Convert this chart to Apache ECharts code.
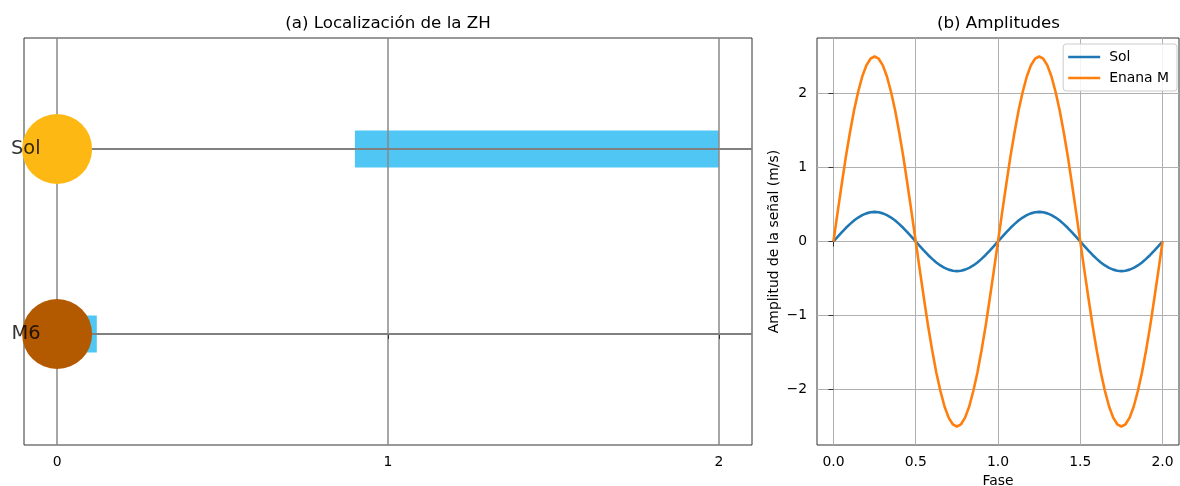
<!DOCTYPE html>
<html>
<head>
<meta charset="utf-8">
<script src="https://cdn.jsdelivr.net/npm/echarts@6/dist/echarts.min.js"></script>
<style>
  html, body { margin: 0; padding: 0; background: #fff; }
  #chart { width: 1180px; height: 486px; }
</style>
</head>
<body>
<div id="chart"></div>
<script>
// Panel (a): habitable zone per star
const stars = ['Sol', 'M6'];
const starRow = [1, 0];
const starColors = ['#fdb813', '#b35900'];
const hzInner = [0.9, 0.0];
const hzOuter = [2.0, 0.12];
const distTicks = [0, 1, 2];

// Panel (b): radial-velocity signal over two phases
const phase = [0, 0.025, 0.05, 0.075, 0.1, 0.125, 0.15, 0.175, 0.2, 0.225, 0.25, 0.275, 0.3, 0.325, 0.35, 0.375, 0.4, 0.425, 0.45, 0.475,
  0.5, 0.525, 0.55, 0.575, 0.6, 0.625, 0.65, 0.675, 0.7, 0.725, 0.75, 0.775, 0.8, 0.825, 0.85, 0.875, 0.9, 0.925, 0.95, 0.975,
  1, 1.025, 1.05, 1.075, 1.1, 1.125, 1.15, 1.175, 1.2, 1.225, 1.25, 1.275, 1.3, 1.325, 1.35, 1.375, 1.4, 1.425, 1.45, 1.475,
  1.5, 1.525, 1.55, 1.575, 1.6, 1.625, 1.65, 1.675, 1.7, 1.725, 1.75, 1.775, 1.8, 1.825, 1.85, 1.875, 1.9, 1.925, 1.95, 1.975, 2];
const ampSol = [0, 0.063, 0.124, 0.182, 0.235, 0.283, 0.324, 0.356, 0.38, 0.395, 0.4, 0.395, 0.38, 0.356, 0.324, 0.283, 0.235, 0.182, 0.124, 0.063,
  0, -0.063, -0.124, -0.182, -0.235, -0.283, -0.324, -0.356, -0.38, -0.395, -0.4, -0.395, -0.38, -0.356, -0.324, -0.283, -0.235, -0.182, -0.124, -0.063,
  0, 0.063, 0.124, 0.182, 0.235, 0.283, 0.324, 0.356, 0.38, 0.395, 0.4, 0.395, 0.38, 0.356, 0.324, 0.283, 0.235, 0.182, 0.124, 0.063,
  0, -0.063, -0.124, -0.182, -0.235, -0.283, -0.324, -0.356, -0.38, -0.395, -0.4, -0.395, -0.38, -0.356, -0.324, -0.283, -0.235, -0.182, -0.124, -0.063, 0];
const ampEnanaM = [0, 0.39, 0.77, 1.14, 1.47, 1.77, 2.02, 2.23, 2.38, 2.47, 2.5, 2.47, 2.38, 2.23, 2.02, 1.77, 1.47, 1.14, 0.77, 0.39,
  0, -0.39, -0.77, -1.14, -1.47, -1.77, -2.02, -2.23, -2.38, -2.47, -2.5, -2.47, -2.38, -2.23, -2.02, -1.77, -1.47, -1.14, -0.77, -0.39,
  0, 0.39, 0.77, 1.14, 1.47, 1.77, 2.02, 2.23, 2.38, 2.47, 2.5, 2.47, 2.38, 2.23, 2.02, 1.77, 1.47, 1.14, 0.77, 0.39,
  0, -0.39, -0.77, -1.14, -1.47, -1.77, -2.02, -2.23, -2.38, -2.47, -2.5, -2.47, -2.38, -2.23, -2.02, -1.77, -1.47, -1.14, -0.77, -0.39, 0];
const phaseTicks = [0, 0.5, 1, 1.5, 2];
const ampTicks = [-2, -1, 0, 1, 2];

const FONT = 'DejaVu Sans';
const minus = v => (v < 0 ? '\u2212' + Math.abs(v) : String(v));

const chart = echarts.init(document.getElementById('chart'), null, { renderer: 'canvas' });

const tickStyle = { show: true, inside: false, length: 5, lineStyle: { color: '#333', width: 1 } };

chart.setOption({
  animation: false,
  textStyle: { fontFamily: FONT },
  graphic: [
    { type: 'text', x: 388, y: 24, z: 10,
      style: { text: '(a) Localización de la ZH', font: '16.7px "DejaVu Sans"', fill: '#000', textAlign: 'center', textVerticalAlign: 'middle' } },
    { type: 'text', x: 998.5, y: 24, z: 10,
      style: { text: '(b) Amplitudes', font: '16.7px "DejaVu Sans"', fill: '#000', textAlign: 'center', textVerticalAlign: 'middle' } }
  ],
  grid: [
    { left: 24, right: 428, top: 38, bottom: 41, outerBoundsMode: 'none', containLabel: false,
      show: true, borderColor: '#333', borderWidth: 1, backgroundColor: 'transparent' },
    { left: 817, right: 1, top: 38, bottom: 41, outerBoundsMode: 'none', containLabel: false,
      show: true, borderColor: '#333', borderWidth: 1, backgroundColor: 'transparent' }
  ],
  legend: {
    data: ['Sol', 'Enana M'],
    orient: 'vertical',
    right: 3, top: 44,
    padding: [6, 8, 6, 5],
    itemGap: 7,
    itemWidth: 32, itemHeight: 2.5,
    icon: 'rect',
    backgroundColor: 'rgba(255,255,255,0.85)',
    borderColor: '#cccccc', borderWidth: 1, borderRadius: 3,
    textStyle: { fontFamily: FONT, fontSize: 13.9, color: '#000', padding: [0, 0, 0, 4] }
  },
  xAxis: [
    { gridIndex: 0, type: 'value', min: -0.1, max: 2.1, z: 3,
      axisLine: { show: false },
      axisTick: Object.assign({ customValues: distTicks }, tickStyle),
      axisLabel: { customValues: distTicks, margin: 10, fontFamily: FONT, fontSize: 13.9, color: '#000' },
      splitLine: { show: true, lineStyle: { color: '#888888', width: 1.5 } } },
    { gridIndex: 1, type: 'value', min: -0.1, max: 2.1,
      name: 'Fase', nameLocation: 'middle', nameGap: 28,
      nameTextStyle: { fontFamily: FONT, fontSize: 13.9, color: '#000' },
      axisLine: { show: false },
      axisTick: Object.assign({ customValues: phaseTicks }, tickStyle),
      axisLabel: { customValues: phaseTicks, margin: 10, fontFamily: FONT, fontSize: 13.9, color: '#000', formatter: v => v.toFixed(1) },
      splitLine: { show: true, lineStyle: { color: '#b0b0b0', width: 1 } } }
  ],
  yAxis: [
    { gridIndex: 0, type: 'value', min: -0.6, max: 1.6,
      axisLine: { show: false }, axisTick: { show: false }, axisLabel: { show: false }, splitLine: { show: false } },
    { gridIndex: 1, type: 'value', min: -2.75, max: 2.75,
      name: 'Amplitud de la señal (m/s)', nameLocation: 'middle', nameGap: 36, nameRotate: 90,
      nameTextStyle: { fontFamily: FONT, fontSize: 13.9, color: '#000' },
      axisLine: { show: false },
      axisTick: Object.assign({ customValues: ampTicks }, tickStyle),
      axisLabel: { customValues: ampTicks, margin: 10, fontFamily: FONT, fontSize: 13.9, color: '#000', formatter: minus },
      splitLine: { show: true, lineStyle: { color: '#b0b0b0', width: 1 } } }
  ],
  series: [
    // habitable-zone bands
    {
      type: 'custom', xAxisIndex: 0, yAxisIndex: 0, z: 2,
      data: stars.map((s, i) => [hzInner[i], hzOuter[i], starRow[i]]),
      encode: { x: [0, 1], y: 2 },
      renderItem(params, api) {
        const a = api.coord([api.value(0), api.value(2) + 0.1]);
        const b = api.coord([api.value(1), api.value(2) - 0.1]);
        return { type: 'rect', shape: { x: a[0], y: a[1], width: b[0] - a[0], height: b[1] - a[1] },
                 style: { fill: '#4fc6f4' } };
      },
      markLine: {
        silent: true, symbol: 'none', label: { show: false },
        lineStyle: { color: '#808080', width: 2, type: 'solid' },
        data: starRow.map(y => ({ yAxis: y }))
      }
    },
    // star discs
    {
      type: 'scatter', xAxisIndex: 0, yAxisIndex: 0, z: 5,
      symbol: 'circle', symbolSize: 70,
      data: stars.map((s, i) => ({ value: [0, starRow[i]], name: s, itemStyle: { color: starColors[i], opacity: 1 } }))
    },
    // star names
    {
      type: 'scatter', xAxisIndex: 0, yAxisIndex: 0, z: 6,
      symbolSize: 0, silent: true,
      data: stars.map((s, i) => ({ value: [-0.05, starRow[i]], name: s })),
      label: { show: true, position: 'left', distance: 0, formatter: p => p.name,
               fontFamily: FONT, fontSize: 19.4, color: '#000' }
    },
    {
      name: 'Sol', type: 'line', xAxisIndex: 1, yAxisIndex: 1, z: 4,
      data: phase.map((x, i) => [x, ampSol[i]]),
      showSymbol: false, symbol: 'none',
      lineStyle: { color: '#1f77b4', width: 2.6 }, itemStyle: { color: '#1f77b4' }
    },
    {
      name: 'Enana M', type: 'line', xAxisIndex: 1, yAxisIndex: 1, z: 4,
      data: phase.map((x, i) => [x, ampEnanaM[i]]),
      showSymbol: false, symbol: 'none',
      lineStyle: { color: '#ff7f0e', width: 2.6 }, itemStyle: { color: '#ff7f0e' }
    }
  ]
});
</script>
</body>
</html>
